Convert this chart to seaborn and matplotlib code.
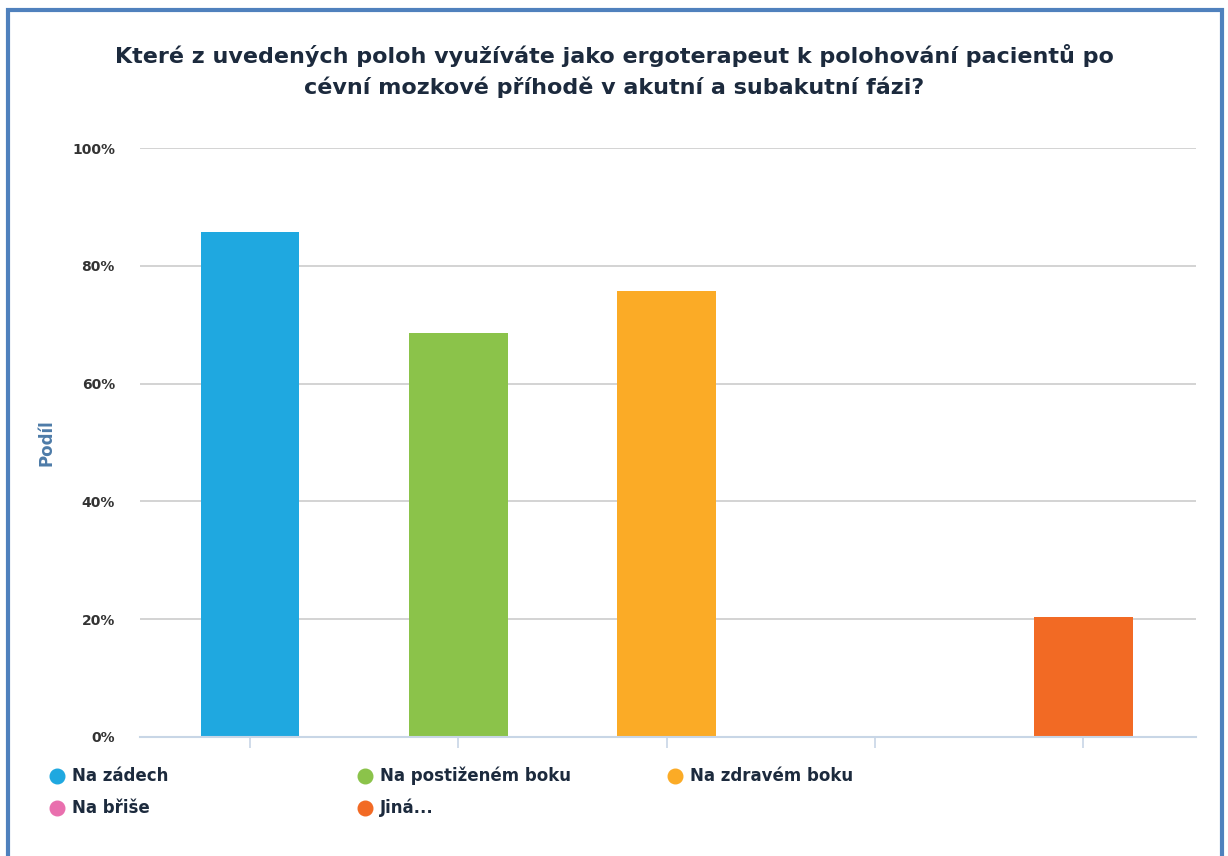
import matplotlib
matplotlib.use("Agg")
import matplotlib.pyplot as plt
from matplotlib.lines import Line2D
from matplotlib.patches import Rectangle
import seaborn as sns
import pandas as pd

categories = ["Na zádech", "Na postiženém boku", "Na zdravém boku", "Na břiše", "Jiná..."]
shares = [85.7, 68.6, 75.7, 0.0, 20.3]
colors = ["#1fa8e0", "#8bc34a", "#fbab26", "#e96fae", "#f26a24"]
y_ticks = [0, 20, 40, 60, 80, 100]
y_tick_labels = ["0%", "20%", "40%", "60%", "80%", "100%"]
title = ("Které z uvedených poloh využíváte jako ergoterapeut k polohování pacientů po\n"
         "cévní mozkové příhodě v akutní a subakutní fázi?")

sns.set_theme(style="white")
plt.rcParams["font.family"] = ["DejaVu Sans"]

df = pd.DataFrame({"poloha": categories, "podil": shares})

W, H = 1228, 856
fig = plt.figure(figsize=(W / 100, H / 100), dpi=100)
ax = fig.add_axes([140 / W, 1 - 737 / H, 1056 / W, 589 / H])

sns.barplot(data=df, x="poloha", y="podil", hue="poloha", palette=colors,
            order=categories, hue_order=categories, width=0.475, dodge=False,
            legend=False, ax=ax, saturation=1, edgecolor="none")

ax.set_ylim(0, 100)
ax.set_xlim(-0.528, 4.542)
ax.set_yticks(y_ticks)
ax.set_yticklabels(y_tick_labels, fontsize=10, fontweight="bold", color="#333333")
ax.yaxis.grid(True, color="#cccccc", linewidth=1.2)
ax.set_axisbelow(True)
ax.tick_params(axis="y", left=False, length=0, pad=18)
ax.set_xticks(range(len(categories)))
ax.set_xticklabels([])
ax.tick_params(axis="x", bottom=True, length=8, width=1.2, color="#c8d6e6",
               direction="out")
for side in ["top", "right", "left"]:
    ax.spines[side].set_visible(False)
ax.spines["bottom"].set_color("#c8d6e6")
ax.spines["bottom"].set_linewidth(1.5)
ax.set_xlabel("")
ax.set_ylabel("Podíl", fontsize=12, fontweight="bold", color="#4d7ba8")
ax.yaxis.set_label_coords(-0.08, 0.5)

fig.text(0.5, 1 - 71 / H, title, ha="center", va="center", fontsize=16,
         fontweight="bold", color="#1c2a3d", linespacing=1.5)

# legend: three fixed columns, filled row by row
col_x = [50, 358, 668]
for k, (name, c) in enumerate(zip(categories, colors)):
    row, colno = divmod(k, 3)
    x = col_x[colno]
    y = 776 + row * 32
    fig.lines.append(Line2D([(x + 7) / W], [1 - y / H], transform=fig.transFigure,
                            marker="o", linestyle="", markersize=10.5,
                            markerfacecolor=c, markeredgecolor=c))
    fig.text((x + 22) / W, 1 - y / H, name, ha="left", va="center",
             fontsize=12, fontweight="bold", color="#1c2a3d")

# frame around the whole chart
fig.patches.append(Rectangle((8 / W, -0.05), 1214 / W, 1.05 - 10 / H,
                             transform=fig.transFigure, fill=False,
                             edgecolor="#4f81bd", linewidth=3))

fig.savefig("out.png", dpi=100)
